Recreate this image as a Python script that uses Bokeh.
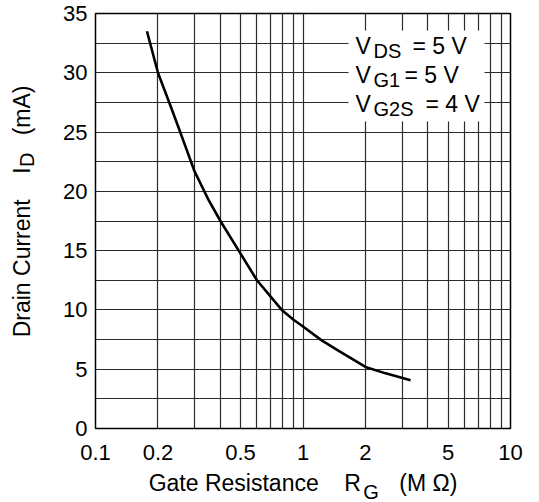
from bokeh.plotting import figure
from bokeh.models import FixedTicker, LabelSet, BoxAnnotation, ColumnDataSource, LogAxis, LinearAxis
from bokeh.core.properties import value
from bokeh.embed import file_html
from bokeh.resources import INLINE

# ---- data ----
gate_resistance_mohm = [0.177, 0.2, 0.23, 0.256, 0.3, 0.35, 0.4, 0.49, 0.6, 0.7, 0.79, 0.9, 1.0, 1.23, 1.5, 2.0, 2.5, 3.3]
drain_current_ma = [33.5, 30.0, 27.2, 25.0, 21.7, 19.3, 17.5, 15.0, 12.5, 11.1, 10.0, 9.17, 8.6, 7.43, 6.5, 5.19, 4.65, 4.07]

x_ticks = [0.1, 0.2, 0.5, 1, 2, 5, 10]
x_tick_labels = ["0.1", "0.2", "0.5", "1", "2", "5", "10"]
y_ticks = [0, 5, 10, 15, 20, 25, 30, 35]
x_grid = [0.2, 0.3, 0.4, 0.5, 0.6, 0.7, 0.8, 0.9, 1, 2, 3, 4, 5, 6, 7, 8, 9]
y_grid = [2.5, 5, 7.5, 10, 12.5, 15, 17.5, 20, 22.5, 25, 27.5, 30, 32.5]

NB = "\u00a0"
x_title = "Gate Resistance" + NB * 4 + "R" + NB * 6 + "(M" + NB + "\u03a9)"
x_title_sub = "G"
x_title_sub_at = 2.13
y_title = NB * 3 + "Drain Current" + NB * 4 + "I" + NB * 5 + "(mA)"
y_title_sub = "D"
y_title_sub_at = 22.66

FONT = "Liberation Sans"

# frame geometry (pixels) used to place the condition text
F_LEFT, F_RIGHT, F_TOP, F_BOTTOM = 95, 510, 13, 428
W, H = 531, 502


def X(px):
    return 10 ** (-1 + (px - F_LEFT) * 2.0 / (F_RIGHT - F_LEFT))


def Y(py):
    return (F_BOTTOM - py) * 35.0 / (F_BOTTOM - F_TOP)


p = figure(width=W, height=H, x_axis_type="log", x_range=(0.1, 10), y_range=(0, 35),
           output_backend="svg", toolbar_location=None,
           min_border_left=F_LEFT, min_border_right=W - F_RIGHT,
           min_border_top=F_TOP, min_border_bottom=H - F_BOTTOM)

p.background_fill_color = "white"
p.border_fill_color = "white"
p.outline_line_color = "black"
p.outline_line_width = 1.5

p.xaxis.ticker = FixedTicker(ticks=x_ticks)
p.xaxis.major_label_overrides = {t: l for t, l in zip(x_ticks, x_tick_labels)}
p.yaxis.ticker = FixedTicker(ticks=y_ticks)


def style_axis(ax, size="22px"):
    ax.axis_line_color = None
    ax.major_tick_line_color = None
    ax.minor_tick_line_color = None
    ax.major_tick_out = 0
    ax.major_tick_in = 0
    ax.major_label_text_font = FONT
    ax.major_label_text_font_size = size
    ax.major_label_text_color = "black"
    ax.axis_label_text_font = FONT
    ax.axis_label_text_font_size = "23px"
    ax.axis_label_text_font_style = "normal"
    ax.axis_label_text_color = "black"


style_axis(p.xaxis[0])
style_axis(p.yaxis[0])
p.xaxis.major_label_standoff = 16
p.yaxis.major_label_standoff = 8
p.yaxis.axis_label = y_title
p.yaxis.axis_label_standoff = 25

# x title: the subscript is this axis's tick label, the title is its axis label
xsub = LogAxis(ticker=FixedTicker(ticks=[x_title_sub_at]),
               major_label_overrides={x_title_sub_at: x_title_sub},
               axis_label=x_title)
style_axis(xsub, "20px")
xsub.major_label_standoff = 18
xsub.axis_label_standoff = -36
p.add_layout(xsub, "below")

ysub = LinearAxis(ticker=FixedTicker(ticks=[y_title_sub_at]),
                  major_label_overrides={y_title_sub_at: y_title_sub})
style_axis(ysub, "20px")
ysub.major_label_orientation = "vertical"
ysub.major_label_standoff = -32
p.add_layout(ysub, "left")

p.xgrid.ticker = FixedTicker(ticks=x_grid)
p.ygrid.ticker = FixedTicker(ticks=y_grid)
for g in (p.xgrid[0], p.ygrid[0]):
    g.grid_line_color = "#2a2a2a"
    g.grid_line_width = 1.2

p.line(gate_resistance_mohm, drain_current_ma, line_width=2.6, line_color="black")

# white box behind the condition text
p.add_layout(BoxAnnotation(left=X(348), right=X(484), bottom=Y(121), top=Y(30),
                           fill_color="white", fill_alpha=1.0, line_color=None))

# condition text: (text, left px, baseline px, size)
cond_items = [
    ("V", 355, 53, 23), ("DS", 373, 57, 20), ("= 5 V", 412, 53, 23),
    ("V", 355, 82, 23), ("G1", 373, 86, 20), ("= 5 V", 404, 82, 23),
    ("V", 355, 111, 23), ("G2S", 373, 115, 20), ("= 4 V", 425, 111, 23),
]
src = ColumnDataSource(dict(
    x=[X(it[1]) for it in cond_items],
    y=[Y(it[2]) for it in cond_items],
    text=[it[0] for it in cond_items],
    fs=[f"{it[3]}px" for it in cond_items],
))
p.add_layout(LabelSet(x="x", y="y", text="text", source=src,
                      text_font=value(FONT), text_font_size="fs", text_color="black",
                      text_align="left", text_baseline="alphabetic"))

open("out.html", "w").write(file_html(p, INLINE))
